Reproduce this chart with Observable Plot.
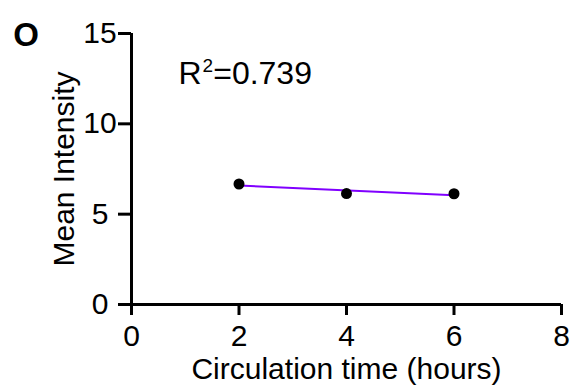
<!DOCTYPE html>
<html>
<head>
<meta charset="utf-8">
<script src="https://cdn.jsdelivr.net/npm/d3@7"></script>
<script src="https://cdn.jsdelivr.net/npm/@observablehq/plot@0.6"></script>
<style>
  html, body { margin: 0; padding: 0; background: #fff; }
</style>
</head>
<body>
<div id="chart"></div>
<script>
const hours = [2, 4, 6];
const intensity = [6.67, 6.14, 6.13];
const xTicks = [0, 2, 4, 6, 8];
const yTicks = [0, 5, 10, 15];
const xTitle = "Circulation time (hours)";
const yTitle = "Mean Intensity";
const panelLabel = "O";
const r2Parts = ["R", "2", "=0.739"];

const data = hours.map((h, i) => ({hours: h, intensity: intensity[i]}));
const font = "'Liberation Sans', Arial, Helvetica, sans-serif";

const chart = Plot.plot({
  width: 571,
  height: 385,
  marginLeft: 131,
  marginRight: 10,
  marginTop: 33,
  marginBottom: 81,
  style: {fontFamily: font, fontSize: "30px", color: "black", background: "white"},
  x: {domain: [0, 8]},
  y: {domain: [0, 15]},
  marks: [
    Plot.axisX({ticks: xTicks, tickSize: 11, tickPadding: 9, strokeWidth: 3, label: null, fontSize: 30}),
    Plot.axisY({ticks: yTicks, tickSize: 13, tickPadding: 18.5, textAnchor: "middle", strokeWidth: 3, label: null, fontSize: 30}),
    Plot.ruleX([0], {stroke: "black", strokeWidth: 3}),
    Plot.ruleY([0], {stroke: "black", strokeWidth: 3}),
    Plot.linearRegressionY(data, {x: "hours", y: "intensity", stroke: "#8000ff", strokeWidth: 2, ci: 0}),
    Plot.dot(data, {x: "hours", y: "intensity", r: 5.5, fill: "black", stroke: "none"}),
    Plot.text([xTitle], {frameAnchor: "bottom", lineAnchor: "bottom", dy: 74, fontSize: 30, fill: "black"}),
    Plot.text([yTitle], {frameAnchor: "left", rotate: -90, lineAnchor: "middle", textAnchor: "middle", dx: -67, fontSize: 30, fill: "black"}),
    Plot.text([r2Parts.join("")], {frameAnchor: "top-left", textAnchor: "start", lineAnchor: "bottom", dx: 47, dy: 50, fontSize: 32, fill: "black", className: "r2label"}),
    Plot.text([panelLabel], {frameAnchor: "top-left", textAnchor: "middle", lineAnchor: "middle", dx: -105.5, dy: 2, fontSize: 33, fontWeight: "bold", fill: "black"})
  ]
});

// render the R² label with a real superscript
d3.select(chart).selectAll(".r2label text").each(function() {
  const t = d3.select(this);
  t.text(null);
  t.append("tspan").text(r2Parts[0]);
  t.append("tspan").attr("dy", "-0.62em").attr("dx", "1").style("font-size", "19px").text(r2Parts[1]);
  t.append("tspan").attr("dy", "0.37em").text(r2Parts[2]);
});

document.getElementById("chart").appendChild(chart);
</script>
</body>
</html>
